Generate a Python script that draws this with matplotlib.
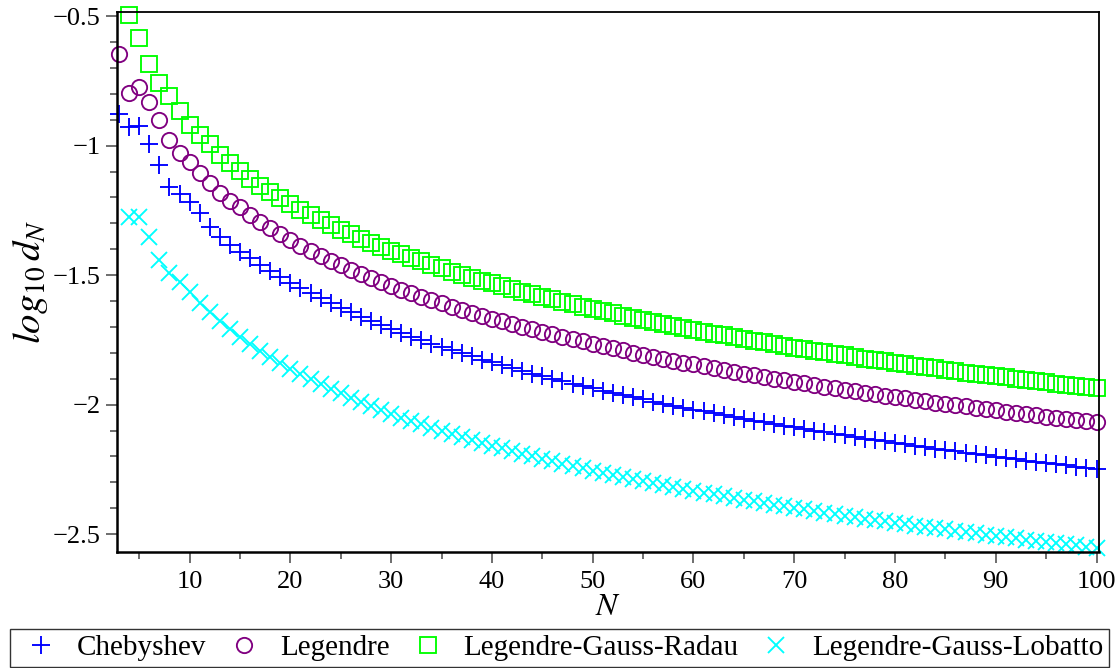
import matplotlib
matplotlib.use("Agg")
import matplotlib.pyplot as plt
from matplotlib.ticker import MultipleLocator, FuncFormatter

plt.rcParams['font.family'] = ['Liberation Serif', 'DejaVu Serif']
plt.rcParams['mathtext.fontset'] = 'stix'

# N values for each family
n_cheb = list(range(3, 101))
n_leg = list(range(3, 101))
n_radau = list(range(4, 101))
n_lobatto = list(range(4, 101))

# log10 d_N, Chebyshev points (N = 3..100)
cheb = [-0.878, -0.929, -0.924, -0.993, -1.075, -1.158, -1.188, -1.216, -1.261, -1.313,
        -1.351, -1.383, -1.409, -1.434, -1.459, -1.483, -1.506, -1.529, -1.549, -1.569,
        -1.589, -1.608, -1.627, -1.644, -1.661, -1.678, -1.693, -1.708, -1.723, -1.737,
        -1.751, -1.765, -1.778, -1.790, -1.802, -1.814, -1.826, -1.837, -1.848, -1.859,
        -1.870, -1.880, -1.890, -1.900, -1.910, -1.919, -1.928, -1.937, -1.946, -1.955,
        -1.963, -1.972, -1.980, -1.988, -1.996, -2.004, -2.012, -2.019, -2.026, -2.034,
        -2.041, -2.048, -2.055, -2.062, -2.069, -2.075, -2.082, -2.088, -2.095, -2.101,
        -2.107, -2.113, -2.119, -2.125, -2.131, -2.137, -2.142, -2.148, -2.154, -2.159,
        -2.165, -2.170, -2.175, -2.180, -2.186, -2.191, -2.196, -2.201, -2.206, -2.211,
        -2.216, -2.220, -2.225, -2.230, -2.234, -2.239, -2.244, -2.248]

# log10 d_N, Legendre points (N = 3..100)
leg = [-0.647, -0.795, -0.775, -0.830, -0.901, -0.978, -1.027, -1.062, -1.104, -1.143,
       -1.184, -1.212, -1.238, -1.267, -1.294, -1.319, -1.343, -1.365, -1.386, -1.407,
       -1.426, -1.445, -1.462, -1.480, -1.496, -1.512, -1.527, -1.542, -1.556, -1.570,
       -1.584, -1.597, -1.609, -1.622, -1.634, -1.645, -1.657, -1.668, -1.678, -1.689,
       -1.699, -1.709, -1.719, -1.729, -1.738, -1.747, -1.756, -1.765, -1.774, -1.782,
       -1.791, -1.799, -1.807, -1.815, -1.822, -1.830, -1.838, -1.845, -1.852, -1.859,
       -1.866, -1.873, -1.880, -1.886, -1.893, -1.900, -1.906, -1.912, -1.918, -1.924,
       -1.931, -1.936, -1.942, -1.948, -1.954, -1.960, -1.965, -1.971, -1.976, -1.981,
       -1.987, -1.992, -1.997, -2.002, -2.007, -2.012, -2.017, -2.022, -2.027, -2.032,
       -2.036, -2.041, -2.046, -2.050, -2.055, -2.059, -2.064, -2.068]

# log10 d_N, Legendre-Gauss-Radau points (N = 4..100)
radau = [-0.497, -0.583, -0.686, -0.757, -0.808, -0.866, -0.920, -0.959, -0.995, -1.036,
         -1.068, -1.098, -1.128, -1.154, -1.180, -1.204, -1.226, -1.248, -1.268, -1.288,
         -1.307, -1.325, -1.342, -1.359, -1.375, -1.390, -1.405, -1.420, -1.434, -1.447,
         -1.461, -1.473, -1.486, -1.498, -1.510, -1.521, -1.532, -1.543, -1.554, -1.564,
         -1.574, -1.584, -1.594, -1.604, -1.613, -1.622, -1.631, -1.640, -1.648, -1.657,
         -1.665, -1.673, -1.681, -1.689, -1.696, -1.704, -1.711, -1.719, -1.726, -1.733,
         -1.740, -1.747, -1.753, -1.760, -1.767, -1.773, -1.780, -1.786, -1.792, -1.798,
         -1.804, -1.810, -1.816, -1.822, -1.827, -1.833, -1.839, -1.844, -1.849, -1.855,
         -1.860, -1.865, -1.870, -1.876, -1.881, -1.886, -1.890, -1.895, -1.900, -1.905,
         -1.910, -1.914, -1.919, -1.924, -1.928, -1.933, -1.937]

# log10 d_N, Legendre-Gauss-Lobatto points (N = 4..100)
lobatto = [-1.274, -1.276, -1.353, -1.441, -1.493, -1.525, -1.564, -1.608, -1.642, -1.677,
           -1.708, -1.738, -1.766, -1.792, -1.816, -1.840, -1.861, -1.882, -1.902, -1.921,
           -1.940, -1.957, -1.974, -1.990, -2.006, -2.021, -2.035, -2.050, -2.063, -2.076,
           -2.089, -2.102, -2.114, -2.125, -2.137, -2.148, -2.159, -2.169, -2.180, -2.190,
           -2.200, -2.209, -2.219, -2.228, -2.237, -2.246, -2.255, -2.263, -2.271, -2.280,
           -2.288, -2.295, -2.303, -2.311, -2.318, -2.326, -2.333, -2.340, -2.347, -2.354,
           -2.361, -2.367, -2.374, -2.380, -2.387, -2.393, -2.399, -2.405, -2.411, -2.417,
           -2.423, -2.429, -2.434, -2.440, -2.445, -2.451, -2.456, -2.462, -2.467, -2.472,
           -2.477, -2.482, -2.487, -2.492, -2.497, -2.502, -2.507, -2.512, -2.516, -2.521,
           -2.525, -2.530, -2.535, -2.539, -2.543, -2.548, -2.552]

labels = ["Chebyshev", "Legendre", "Legendre-Gauss-Radau", "Legendre-Gauss-Lobatto"]
colors = ["#0000ff", "#800080", "#00ff00", "#00ffff"]

fig = plt.figure(figsize=(11.15, 6.68), dpi=100)
ax = fig.add_axes([0.1047, 0.1741, 0.8810, 0.8075])

mew = 1.35
ax.plot(n_cheb, cheb, linestyle='none', marker='+', ms=13, mew=mew,
        color=colors[0], label=labels[0], clip_on=False)
ax.plot(n_leg, leg, linestyle='none', marker='o', ms=11, mew=mew,
        mfc='none', mec=colors[1], label=labels[1], clip_on=False)
ax.plot(n_radau, radau, linestyle='none', marker='s', ms=11.2, mew=mew,
        mfc='none', mec=colors[2], label=labels[2], clip_on=False)
ax.plot(n_lobatto, lobatto, linestyle='none', marker='x', ms=12, mew=mew,
        color=colors[3], label=labels[3], clip_on=False)

ax.set_xlim(2.77, 100.25)
ax.set_ylim(-2.568, -0.485)

ax.xaxis.set_major_locator(MultipleLocator(10))
ax.xaxis.set_minor_locator(MultipleLocator(5))
ax.yaxis.set_major_locator(MultipleLocator(0.5))
ax.yaxis.set_minor_locator(MultipleLocator(0.1))


def yfmt(v, pos):
    s = f"{v:g}"
    return s.replace('-', '\u2212')


ax.yaxis.set_major_formatter(FuncFormatter(yfmt))

ax.tick_params(which='both', direction='out', colors='#555555', labelcolor='black',
               labelsize=19, width=1.2, top=False, right=False)
ax.tick_params(which='major', length=8)
ax.tick_params(which='minor', length=5)
ax.tick_params(axis='x', which='major', pad=6)

for side in ('left', 'bottom'):
    ax.spines[side].set_linewidth(1.8)
for side in ('top', 'right'):
    ax.spines[side].set_linewidth(1.3)

ax.set_xlabel(r'$N$', fontsize=23, labelpad=0)
ax.set_ylabel(r'$log_{10}\,d_N$', fontsize=28, labelpad=2)

leg_box = fig.legend(loc='lower center', bbox_to_anchor=(0.5021, 0.002), ncol=4,
                     fontsize=21, frameon=True, fancybox=False, edgecolor='black',
                     handletextpad=0.38, columnspacing=0.45, borderpad=0.2,
                     handlelength=1.7, borderaxespad=0.0)
leg_box.get_frame().set_linewidth(1.0)

fig.savefig("out.png", dpi=100)
